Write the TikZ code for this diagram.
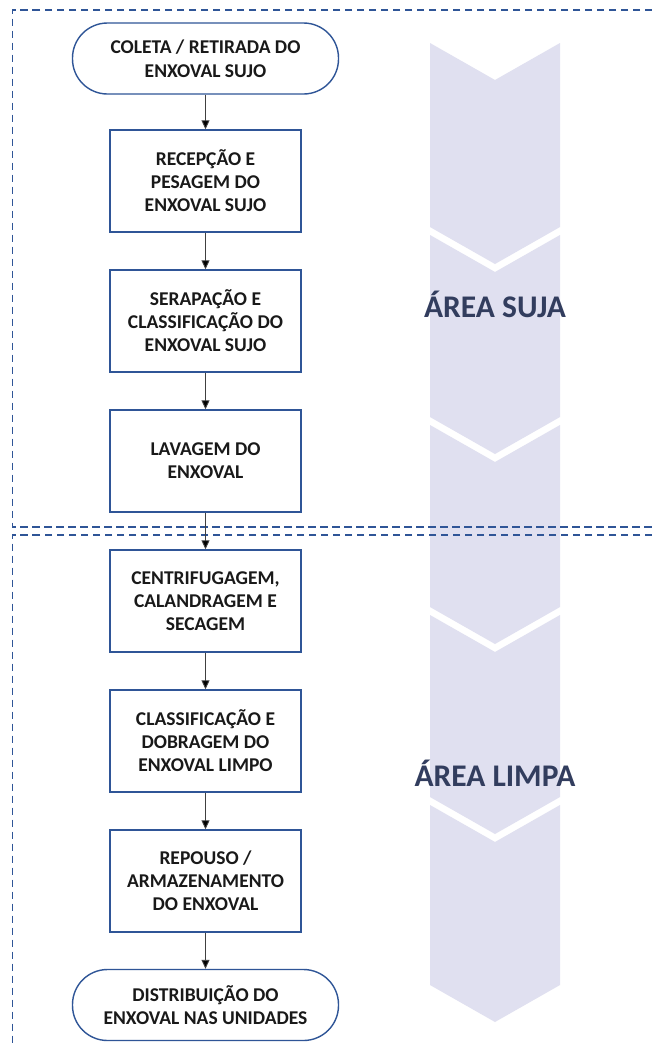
\documentclass[tikz,border=0pt]{standalone}
\usepackage{fontspec}
\setmainfont{Carlito}
\usetikzlibrary{arrows.meta}
\definecolor{boxblue}{HTML}{2F5597}
\definecolor{chev}{HTML}{E0E0F0}
\definecolor{areatxt}{HTML}{323D5E}
\begin{document}
\begin{tikzpicture}[x=1pt,y=-1pt,
  stepbox/.style={draw=boxblue,line width=1.4pt,fill=white,minimum width=191pt,minimum height=102pt,align=center,inner sep=2pt,font=\bfseries\fontsize{19.5}{23}\selectfont,text=black!90},
  termbox/.style={draw=boxblue,line width=1.4pt,fill=white,rounded corners=35pt,minimum width=266pt,minimum height=71pt,align=center,inner sep=2pt,font=\bfseries\fontsize{19.5}{23.5}\selectfont,text=black!90},
  flow/.style={draw=black!75,line width=0.9pt,-{Triangle[length=9pt,width=8pt,fill=black]}},
  zone/.style={draw=boxblue,line width=1.7pt,dash pattern=on 7.5pt off 4.5pt},
  area/.style={font=\bfseries\fontsize{31.5}{36}\selectfont,text=areatxt},
  chevseg/.style={fill=chev,draw=none}]
\useasboundingbox (0,0) rectangle (652,1047);
\fill[white] (0,0) rectangle (652,1047);
% chevron column
\foreach \t/\b in {43/227,235/417,425/607,615/797,805/985}{
  \fill[chevseg] (430,\t) -- (495,\t+37) -- (560,\t) -- (560,\b) -- (495,\b+37) -- (430,\b) -- cycle;
}
% zones
\draw[zone] (652,10) -- (12.5,10) -- (12.5,527) -- (652,527);
\draw[zone] (652,535) -- (12.5,535) -- (12.5,1047);
% area labels
\node[area] (suja) at (495,304) {ÁREA SUJA};
\node[area] (limpa) at (495,773) {ÁREA LIMPA};
% flow
\node[termbox] (s) at (205.5,58.5) {COLETA / RETIRADA DO\\ENXOVAL SUJO};
\node[stepbox] (b1) at (205.5,181) {RECEPÇÃO E\\PESAGEM DO\\ENXOVAL SUJO};
\node[stepbox] (b2) at (205.5,321) {SERAPAÇÃO E\\CLASSIFICAÇÃO DO\\ENXOVAL SUJO};
\node[stepbox] (b3) at (205.5,461) {LAVAGEM DO\\ENXOVAL};
\node[stepbox] (b4) at (205.5,601) {CENTRIFUGAGEM,\\CALANDRAGEM E\\SECAGEM};
\node[stepbox] (b5) at (205.5,741) {CLASSIFICAÇÃO E\\DOBRAGEM DO\\ENXOVAL LIMPO};
\node[stepbox] (b6) at (205.5,881) {REPOUSO /\\ARMAZENAMENTO\\DO ENXOVAL};
\node[termbox] (e) at (205.5,1005) {DISTRIBUIÇÃO DO\\ENXOVAL NAS UNIDADES};
\draw[flow] (s) -- (b1);
\draw[flow] (b1) -- (b2);
\draw[flow] (b2) -- (b3);
\draw[flow] (b3) -- (b4);
\draw[flow] (b4) -- (b5);
\draw[flow] (b5) -- (b6);
\draw[flow] (b6) -- (e);
\end{tikzpicture}
\end{document}
